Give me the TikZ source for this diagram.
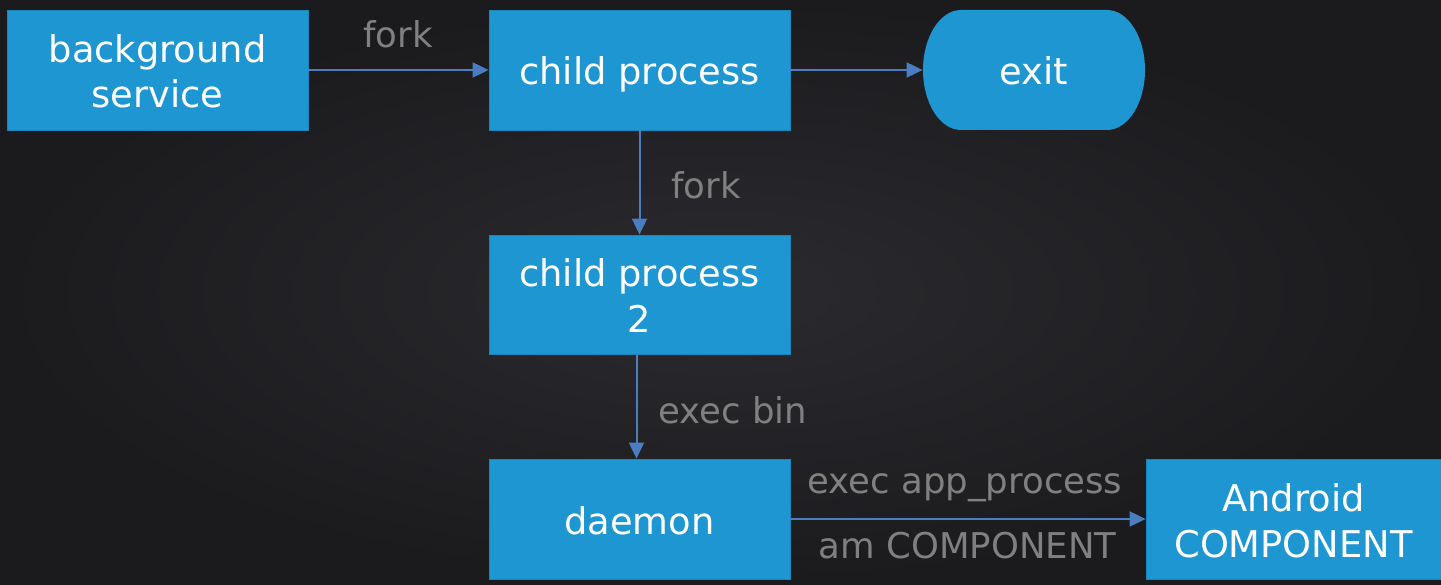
\documentclass[tikz,border=0pt]{standalone}
\usepackage{fontspec}
\setmainfont{DejaVu Sans}
\usetikzlibrary{arrows.meta,positioning}
\definecolor{boxblue}{HTML}{1E96D2}
\definecolor{boxedge}{HTML}{1A84BC}
\definecolor{arrowblue}{HTML}{4A7EC0}
\definecolor{labelgray}{HTML}{808080}
\definecolor{bginner}{HTML}{2B2B2F}
\definecolor{bgouter}{HTML}{1B1B1E}
\tikzset{
  procbox/.style={rectangle, fill=boxblue, draw=boxedge, line width=0.8pt,
    text=white, align=center, inner sep=0pt,
    font=\fontsize{36.8}{45.5}\selectfont},
  oneline/.style={text height=30pt, text depth=0pt},
  twoline/.style={text height=76pt, text depth=0pt},
  flow/.style={draw=arrowblue, line width=2pt,
    -{Triangle[length=16pt,width=15pt]}},
  edgelabel/.style={text=labelgray, font=\fontsize{35.5}{44}\selectfont,
    inner sep=0pt, anchor=base}
}
\begin{document}
\begin{tikzpicture}[x=1pt,y=-1pt]
\useasboundingbox (0,0) rectangle (1441,585);
\shade[inner color=bginner, outer color=bgouter] (0,0) rectangle (1441,585);
% exit stadium shape
\path[fill=boxblue] (961,10) -- (1107,10)
  arc[start angle=90, end angle=-90, x radius=38pt, y radius=60pt]
  -- (961,130)
  arc[start angle=270, end angle=90, x radius=38pt, y radius=60pt] -- cycle;
\node[procbox, twoline, minimum width=301pt, minimum height=120pt] (bg) at (157.5,70) {background\\service};
\node[procbox, oneline, minimum width=301pt, minimum height=120pt] (cp) at (639.5,70) {child process};
\node[procbox, oneline, fill=none, draw=none, minimum width=222pt, minimum height=120pt] (exit) at (1034,70) {exit};
\node[procbox, twoline, minimum width=301pt, minimum height=119pt] (cp2) at (639.5,294.5) {child process\\2};
\node[procbox, oneline, minimum width=301pt, minimum height=120pt] (daemon) at (639.5,519) {daemon};
\node[procbox, twoline, minimum width=295pt, minimum height=120pt] (android) at (1293.5,519) {Android\\COMPONENT};
\draw[flow] (bg) -- (cp);
\draw[flow] (cp) -- (exit);
\draw[flow] (cp) -- (cp2);
\draw[flow] ([xshift=-3pt]cp2.south) -- ([xshift=-3pt]daemon.north);
\draw[flow] (daemon) -- (android);
\node[edgelabel] (l1) at (398,48) {fork};
\node[edgelabel] (l2) at (706,199) {fork};
\node[edgelabel] (l3) at (733,423) {exec bin};
\node[edgelabel] (l4) at (965,493) {exec app\_process};
\node[edgelabel] (l5) at (967.5,558) {am COMPONENT};
\end{tikzpicture}
\end{document}
